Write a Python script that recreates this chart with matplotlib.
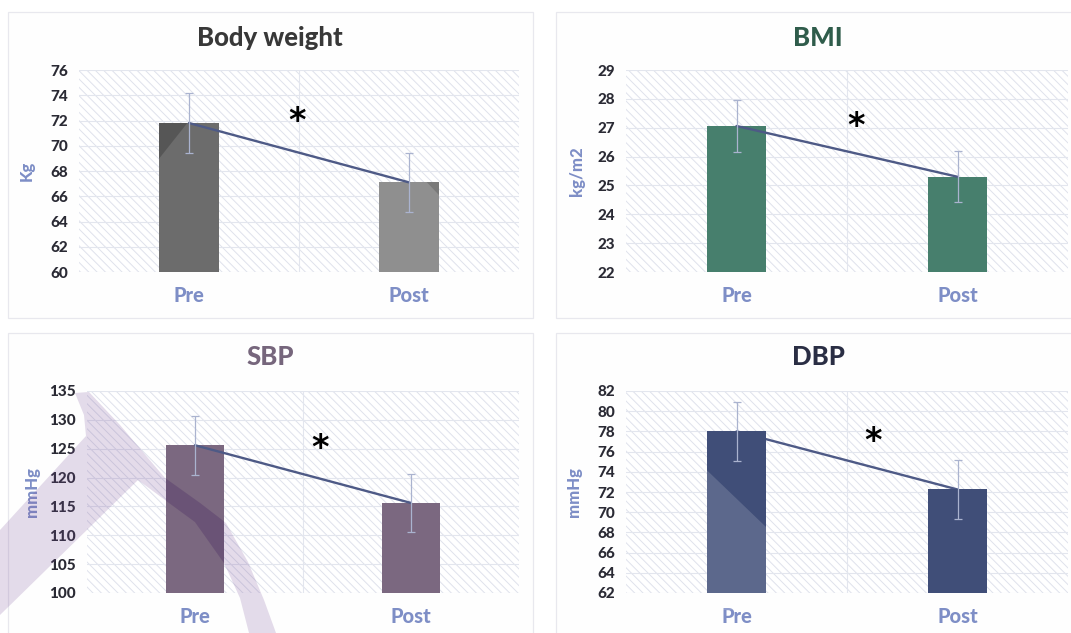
import matplotlib
matplotlib.use("Agg")
import matplotlib.pyplot as plt
from matplotlib.patches import Polygon, Rectangle
import numpy as np

plt.rcParams["font.family"] = ["Lato", "DejaVu Sans"]
plt.rcParams["hatch.linewidth"] = 0.7

W, H = 1071, 633

# Data
groups = ["Pre", "Post"]
titles = ["Body weight", "BMI", "SBP", "DBP"]
units = ["Kg", "kg/m2", "mmHg", "mmHg"]

weight_mean = [71.8, 67.1]
weight_sd = [2.4, 2.35]
bmi_mean = [27.06, 25.3]
bmi_sd = [0.89, 0.88]
sbp_mean = [125.6, 115.6]
sbp_sd = [5.1, 5.1]
dbp_mean = [78.0, 72.25]
dbp_sd = [2.95, 2.9]

y_ticks = [np.arange(60, 77, 2), np.arange(22, 30, 1),
           np.arange(100, 136, 5), np.arange(62, 83, 2)]

# significance marker position (category x, value)
star_pos = [(0.49, 71.9), (0.54, 27.03), (0.58, 125.0), (0.62, 77.0)]

# Styling
bar_colors = [["#6c6c6c", "#8f8f8f"], ["#477f6d", "#477f6d"],
              ["#7b6880", "#7b6880"], ["#404e78", "#404e78"]]
title_colors = ["#383838", "#2f5c4b", "#76667c", "#2a2e44"]
label_blue = "#7e8ec6"
line_color = "#4e5a86"
err_color = "#aab3cf"
grid_color = "#e3e6ee"
line_under_bar = [False, False, False, True]

# panel frames and plot areas in pixels (x0, y0, x1, y1)
frames = [(8, 12, 533, 318), (556, 12, 1080, 318),
          (8, 333, 533, 645), (556, 333, 1080, 645)]
plot_boxes = [(79, 70, 519, 272), (626, 70, 1068, 272),
              (87, 391, 519, 593), (626, 391, 1068, 593)]
title_xy = [(270, 38), (818, 38), (270, 357), (818, 357)]
ylabel_x = [35, 585, 40, 582]


def fx(x):
    return x / W


def fy(y):
    return 1 - y / H


def px_poly(points):
    return [(fx(x), fy(y)) for x, y in points]


fig = plt.figure(figsize=(W / 100, H / 100), dpi=100)
fig.patch.set_facecolor("white")

# panel cards
for x0, y0, x1, y1 in frames:
    fig.add_artist(Rectangle((fx(x0), fy(y1)), fx(x1 - x0), (y1 - y0) / H,
                             transform=fig.transFigure, facecolor="#fefefe",
                             edgecolor="#e8e8ee", lw=0.9, zorder=0))

means = [weight_mean, bmi_mean, sbp_mean, dbp_mean]
sds = [weight_sd, bmi_sd, sbp_sd, dbp_sd]
axes = []
bars_all = []

for i in range(4):
    x0, y0, x1, y1 = plot_boxes[i]
    ax = fig.add_axes([fx(x0), fy(y1), (x1 - x0) / W, (y1 - y0) / H])
    axes.append(ax)
    ax.set_facecolor("none")

    # hatched plot background
    ax.add_patch(Rectangle((0, 0), 1, 1, transform=ax.transAxes,
                           facecolor="white", edgecolor="#dfe2ec",
                           hatch="\\\\\\\\", lw=0, zorder=0))

    x = np.arange(len(groups))
    bars = ax.bar(x, means[i], width=0.27, color=bar_colors[i], zorder=3)
    bars_all.append(bars)
    ax.errorbar(x, means[i], yerr=sds[i], fmt="none", ecolor=err_color,
                elinewidth=0.9, capsize=3, capthick=0.9, zorder=5)
    ax.plot(x, means[i], color=line_color, lw=1.7,
            zorder=2 if line_under_bar[i] else 4, solid_capstyle="round")
    sx, sy = star_pos[i]
    ax.text(sx, sy, "*", fontsize=24, fontweight="bold", color="black",
            ha="center", va="center", family="DejaVu Sans", zorder=6)

    ticks = y_ticks[i]
    ax.set_ylim(ticks[0], ticks[-1])
    ax.set_xlim(-0.5, 1.5)
    ax.set_yticks(ticks)
    ax.set_xticks(x)
    ax.set_xticklabels(groups)
    for t in ticks:
        ax.axhline(t, color=grid_color, lw=0.8, zorder=1)
    ax.axvline(0.5, color=grid_color, lw=0.8, zorder=1)

    ax.tick_params(axis="y", length=0, pad=8, labelsize=11,
                   labelcolor="#2a2a34")
    ax.tick_params(axis="x", length=0, pad=10, labelsize=14.5,
                   labelcolor=label_blue)
    for lbl in ax.get_yticklabels() + ax.get_xticklabels():
        lbl.set_fontweight("black")
    for s in ax.spines.values():
        s.set_visible(False)

    ax.set_ylabel(units[i], color=label_blue, fontsize=12, fontweight="black")
    ax.yaxis.set_label_coords((ylabel_x[i] - x0) / (x1 - x0), 0.5)

    tx, ty = title_xy[i]
    fig.text(fx(tx), fy(ty), titles[i], ha="center", va="center",
             fontsize=18.5, fontweight="black", color=title_colors[i])

# slide overlays that show through the bars
shade = Polygon(px_poly([(120, 208), (158, 160), (200, 107), (120, 107)]),
                closed=True, transform=fig.transFigure, facecolor="black",
                alpha=0.2, lw=0, zorder=4)
axes[0].add_patch(shade)
shade.set_clip_path(bars_all[0][0])

shade = Polygon(px_poly([(420, 175), (455, 175), (455, 212)]),
                closed=True, transform=fig.transFigure, facecolor="black",
                alpha=0.15, lw=0, zorder=4)
axes[0].add_patch(shade)
shade.set_clip_path(bars_all[0][1])

light = Polygon(px_poly([(690, 454), (790, 550), (790, 610), (690, 610)]),
                closed=True, transform=fig.transFigure, facecolor="white",
                alpha=0.15, lw=0, zorder=4)
axes[3].add_patch(light)
light.set_clip_path(bars_all[3][0])

# lavender logo stroke across the lower-left panel
logo = [(75, 393), (89, 392), (120, 425), (165, 478), (200, 503), (226, 523),
        (248, 562), (264, 600), (276, 633), (249, 633), (240, 598),
        (224, 563), (195, 522), (165, 500), (138, 480), (0, 615), (0, 530),
        (86, 436), (84, 415)]
fig.add_artist(Polygon(px_poly(logo), closed=True, transform=fig.transFigure,
                       facecolor="#7a4f9a", alpha=0.2, lw=0, zorder=1.5))
dark = Polygon(px_poly(logo), closed=True, transform=fig.transFigure,
               facecolor="#201030", alpha=0.22, lw=0, zorder=4)
axes[2].add_patch(dark)
dark.set_clip_path(bars_all[2][0])

fig.savefig("out.png", dpi=100)
